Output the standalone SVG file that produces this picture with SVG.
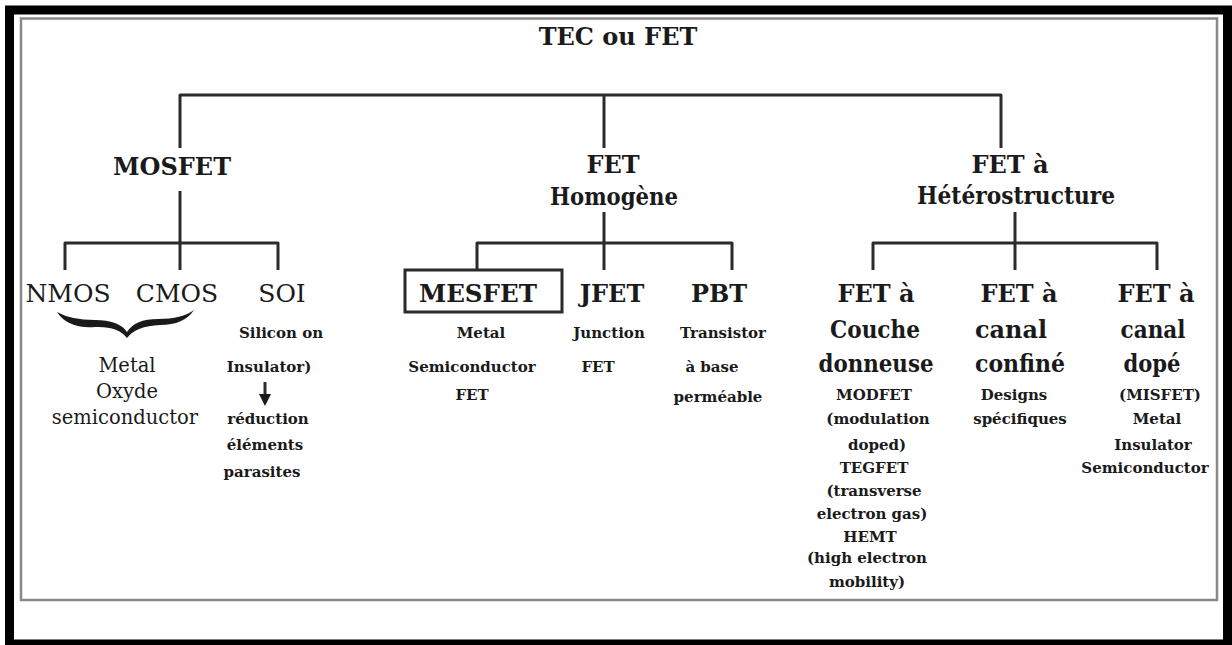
<svg xmlns="http://www.w3.org/2000/svg" width="1232" height="645" viewBox="0 0 1232 645">
<style>
text{font-family:"DejaVu Serif","Liberation Serif",serif;fill:#1a1a1a;text-anchor:middle}
.big{font-size:24px;font-weight:bold}
.reg{font-size:25px;font-weight:normal}
.mid{font-size:19.5px;font-weight:normal}
.sm{font-size:15px;font-weight:bold}
.con{fill:none;stroke:#2b2b2b;stroke-width:3;stroke-linejoin:round}
</style>
<rect x="0" y="0" width="1232" height="645" fill="#fff"/>
<rect x="9.5" y="10" width="1218" height="634" fill="none" stroke="#000" stroke-width="9"/>
<rect x="21" y="18.5" width="1196" height="581.5" fill="none" stroke="#888" stroke-width="2.5"/>
<g id="connectors" class="con">
<path d="M180,148 V95 H1001 V148"/>
<path d="M604,95 V148"/>
<path d="M180,191 V270"/>
<path d="M65,270 V243 H278 V270"/>
<path d="M604,212 V270"/>
<path d="M477,270 V243 H732 V270"/>
<path d="M1015,212 V270"/>
<path d="M873,270 V243 H1157 V270"/>
<path d="M265,382 V396"/>
<polygon points="259,394 271,394 265,406" fill="#1a1a1a" stroke="none"/>
</g>
<g id="root"><text class="big" x="618" y="45">TEC ou FET</text></g>
<g id="mosfet"><text class="big" x="172" y="175">MOSFET</text></g>
<g id="fet-homogene"><text class="big" x="613" y="173">FET</text><text class="big" x="614" y="205" textLength="128" lengthAdjust="spacingAndGlyphs">Homogène</text></g>
<g id="fet-hetero"><text class="big" x="1010" y="173">FET à</text><text class="big" x="1016" y="204" textLength="198" lengthAdjust="spacingAndGlyphs">Hétérostructure</text></g>
<g id="nmos-cmos">
<text class="reg" x="68" y="302">NMOS</text>
<text class="reg" x="177" y="302">CMOS</text>
<path d="M57,312 Q68,329 95,327 Q118,326 127,338 Q136,326 160,325 Q184,325 194,310 Q182,319 158,319 Q135,319 127,332 Q119,320 95,320 Q71,320 57,312 Z" fill="#1a1a1a"/>
<text class="mid" x="127" y="372">Metal</text>
<text class="mid" x="127" y="398">Oxyde</text>
<text class="mid" x="125" y="424">semiconductor</text>
</g>
<g id="soi">
<text class="reg" x="282" y="302">SOI</text>
<text class="sm" x="281" y="338">Silicon on</text>
<text class="sm" x="269" y="372">Insulator)</text>
<text class="sm" x="268" y="424">réduction</text>
<text class="sm" x="265" y="450">éléments</text>
<text class="sm" x="262" y="477">parasites</text>
</g>
<g id="mesfet">
<rect x="405" y="270" width="157" height="42" fill="none" stroke="#2b2b2b" stroke-width="3"/>
<text class="big" x="478" y="302" textLength="118" lengthAdjust="spacingAndGlyphs">MESFET</text>
<text class="sm" x="481" y="338">Metal</text>
<text class="sm" x="472" y="372">Semiconductor</text>
<text class="sm" x="472" y="400">FET</text>
</g>
<g id="jfet">
<text class="big" x="612" y="302">JFET</text>
<text class="sm" x="609" y="338">Junction</text>
<text class="sm" x="598" y="372">FET</text>
</g>
<g id="pbt">
<text class="big" x="719" y="302">PBT</text>
<text class="sm" x="723" y="338">Transistor</text>
<text class="sm" x="712" y="372">à base</text>
<text class="sm" x="718" y="402">perméable</text>
</g>
<g id="fet-couche">
<text class="big" x="876" y="302">FET à</text>
<text class="big" x="875" y="338" textLength="90" lengthAdjust="spacingAndGlyphs">Couche</text>
<text class="big" x="876" y="372" textLength="115" lengthAdjust="spacingAndGlyphs">donneuse</text>
<text class="sm" x="874" y="400">MODFET</text>
<text class="sm" x="878" y="424">(modulation</text>
<text class="sm" x="877" y="450">doped)</text>
<text class="sm" x="874" y="473">TEGFET</text>
<text class="sm" x="874" y="496">(transverse</text>
<text class="sm" x="872" y="519">electron gas)</text>
<text class="sm" x="870" y="542">HEMT</text>
<text class="sm" x="867" y="563">(high electron</text>
<text class="sm" x="867" y="587">mobility)</text>
</g>
<g id="fet-confine">
<text class="big" x="1019" y="302">FET à</text>
<text class="big" x="1011" y="338" textLength="72" lengthAdjust="spacingAndGlyphs">canal</text>
<text class="big" x="1020" y="372" textLength="90" lengthAdjust="spacingAndGlyphs">confiné</text>
<text class="sm" x="1014" y="400">Designs</text>
<text class="sm" x="1020" y="424">spécifiques</text>
</g>
<g id="fet-dope">
<text class="big" x="1156" y="302">FET à</text>
<text class="big" x="1153" y="338" textLength="65" lengthAdjust="spacingAndGlyphs">canal</text>
<text class="big" x="1152" y="372" textLength="57" lengthAdjust="spacingAndGlyphs">dopé</text>
<text class="sm" x="1160" y="400">(MISFET)</text>
<text class="sm" x="1157" y="424">Metal</text>
<text class="sm" x="1153" y="450">Insulator</text>
<text class="sm" x="1145" y="473">Semiconductor</text>
</g>
</svg>
